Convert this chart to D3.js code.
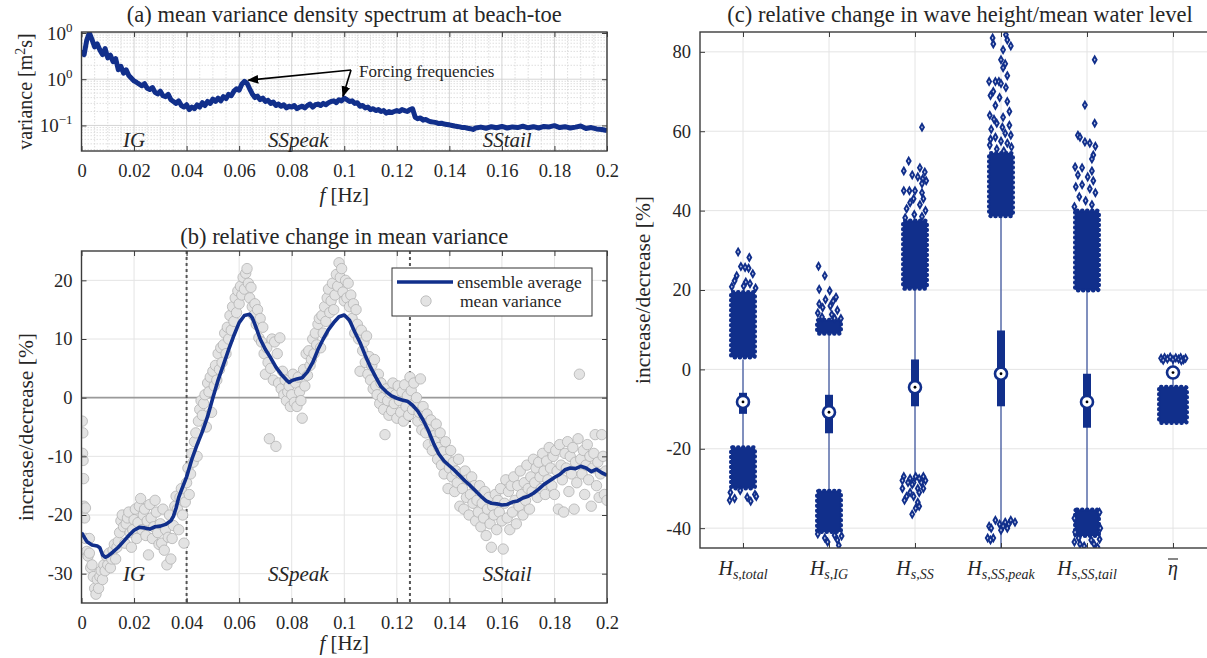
<!DOCTYPE html>
<html><head><meta charset="utf-8">
<script src="https://cdn.jsdelivr.net/npm/d3@7"></script>
<style>
body{margin:0;background:#fff}
svg{display:block}
text{font-family:"Liberation Serif","DejaVu Serif",serif;fill:#262626}
</style>
</head><body>
<svg id="c" width="1207" height="658"></svg>
<script>
// ---------------- DATA ----------------
// (a) mean variance density spectrum [f (Hz), variance (m^2 s)]
const spectrum = [[0,4.2],[0.001,3.4],[0.002,7.0],[0.003,10.0],[0.004,7.2],[0.005,5.0],[0.006,5.8],[0.007,4.3],[0.008,3.4],[0.009,4.6],[0.010,2.9],[0.011,3.3],[0.012,2.4],[0.013,2.8],[0.014,1.6],[0.015,1.9],[0.016,1.35],[0.017,1.6],[0.018,1.2],[0.019,1.05],[0.020,0.92],[0.021,0.85],[0.022,0.78],[0.023,0.72],[0.024,0.8],[0.025,0.64],[0.026,0.6],[0.027,0.66],[0.028,0.52],[0.029,0.48],[0.030,0.55],[0.031,0.44],[0.032,0.42],[0.033,0.47],[0.034,0.36],[0.035,0.33],[0.036,0.30],[0.037,0.34],[0.038,0.27],[0.039,0.25],[0.040,0.28],[0.041,0.22],[0.042,0.25],[0.043,0.23],[0.044,0.28],[0.045,0.25],[0.046,0.31],[0.047,0.27],[0.048,0.33],[0.049,0.30],[0.050,0.37],[0.051,0.33],[0.052,0.39],[0.053,0.34],[0.054,0.42],[0.055,0.38],[0.056,0.47],[0.057,0.44],[0.058,0.55],[0.059,0.62],[0.060,0.58],[0.061,0.78],[0.062,0.9],[0.063,0.82],[0.064,0.62],[0.065,0.48],[0.066,0.40],[0.067,0.43],[0.068,0.36],[0.069,0.39],[0.070,0.33],[0.071,0.35],[0.072,0.30],[0.073,0.32],[0.074,0.27],[0.075,0.29],[0.076,0.26],[0.077,0.28],[0.078,0.24],[0.079,0.26],[0.080,0.25],[0.081,0.27],[0.082,0.23],[0.083,0.25],[0.084,0.26],[0.085,0.24],[0.086,0.27],[0.087,0.29],[0.088,0.25],[0.089,0.28],[0.090,0.29],[0.091,0.27],[0.092,0.30],[0.093,0.28],[0.094,0.31],[0.095,0.33],[0.096,0.34],[0.097,0.31],[0.098,0.36],[0.099,0.34],[0.100,0.39],[0.101,0.36],[0.102,0.33],[0.103,0.34],[0.104,0.30],[0.105,0.31],[0.106,0.26],[0.107,0.27],[0.108,0.24],[0.109,0.25],[0.110,0.22],[0.111,0.23],[0.112,0.21],[0.113,0.22],[0.114,0.20],[0.115,0.21],[0.116,0.185],[0.117,0.2],[0.118,0.19],[0.119,0.2],[0.120,0.21],[0.121,0.2],[0.122,0.22],[0.123,0.21],[0.124,0.20],[0.125,0.22],[0.126,0.23],[0.127,0.15],[0.128,0.14],[0.129,0.145],[0.130,0.13],[0.131,0.135],[0.132,0.125],[0.133,0.12],[0.134,0.118],[0.135,0.115],[0.136,0.11],[0.137,0.112],[0.138,0.107],[0.139,0.105],[0.140,0.103],[0.141,0.1],[0.142,0.097],[0.143,0.095],[0.144,0.093],[0.145,0.09],[0.146,0.09],[0.147,0.087],[0.148,0.085],[0.149,0.082],[0.150,0.088],[0.152,0.092],[0.154,0.087],[0.156,0.094],[0.158,0.089],[0.160,0.095],[0.162,0.088],[0.164,0.093],[0.166,0.09],[0.168,0.096],[0.170,0.089],[0.172,0.094],[0.174,0.088],[0.176,0.095],[0.178,0.093],[0.180,0.099],[0.182,0.09],[0.184,0.094],[0.186,0.088],[0.188,0.092],[0.190,0.097],[0.192,0.086],[0.194,0.09],[0.196,0.084],[0.198,0.082],[0.200,0.078]];
const specYTicks = [0.1, 1, 10];
const specYLabels = [["10","−1"],["10","0"],["10","0"]];
const fTicks = [0,0.02,0.04,0.06,0.08,0.1,0.12,0.14,0.16,0.18,0.2];
const fTickLabels = ["0","0.02","0.04","0.06","0.08","0.1","0.12","0.14","0.16","0.18","0.2"];
const bandNames = ["IG","SSpeak","SStail"];
const bandCentres = [0.02, 0.0825, 0.162];
const bandLimits = [0.04, 0.125];

// (b) ensemble average of relative change [f, %]
const ensemble = [[0,-23.0],[0.002,-24.5],[0.004,-25.1],[0.006,-25.3],[0.007,-25.6],[0.008,-26.8],[0.009,-27.2],[0.010,-27.0],[0.012,-26.3],[0.014,-25.5],[0.016,-24.5],[0.018,-23.5],[0.020,-22.6],[0.022,-22.1],[0.024,-22.2],[0.026,-22.4],[0.028,-22.0],[0.030,-21.9],[0.032,-21.6],[0.034,-21.0],[0.035,-20.2],[0.036,-18.8],[0.037,-17.0],[0.038,-15.8],[0.040,-13.5],[0.042,-10.5],[0.044,-8.0],[0.046,-5.8],[0.048,-3.2],[0.050,0.0],[0.052,3.0],[0.054,5.6],[0.056,8.2],[0.058,10.6],[0.060,12.8],[0.062,14.0],[0.064,14.2],[0.065,13.6],[0.066,12.5],[0.068,10.0],[0.070,8.2],[0.072,6.8],[0.074,5.2],[0.076,4.0],[0.078,3.0],[0.079,2.6],[0.080,2.9],[0.082,3.2],[0.084,3.4],[0.086,4.4],[0.088,6.0],[0.090,8.2],[0.092,10.0],[0.094,11.6],[0.096,12.8],[0.098,13.8],[0.100,14.1],[0.102,13.2],[0.104,11.2],[0.106,9.4],[0.108,7.2],[0.110,5.2],[0.112,3.5],[0.114,1.9],[0.116,1.0],[0.118,0.3],[0.120,-0.1],[0.122,-0.4],[0.124,-0.6],[0.126,-1.3],[0.128,-2.3],[0.130,-3.8],[0.132,-5.6],[0.134,-7.8],[0.136,-9.6],[0.138,-10.8],[0.140,-11.6],[0.142,-12.4],[0.144,-13.3],[0.146,-14.2],[0.148,-15.0],[0.150,-15.9],[0.152,-16.8],[0.154,-17.6],[0.156,-18.0],[0.158,-18.1],[0.160,-18.3],[0.162,-18.2],[0.164,-17.8],[0.166,-17.6],[0.168,-17.1],[0.170,-16.8],[0.172,-16.3],[0.174,-15.6],[0.176,-14.8],[0.178,-14.2],[0.180,-13.6],[0.182,-13.1],[0.184,-12.3],[0.186,-12.0],[0.188,-12.1],[0.190,-11.7],[0.192,-12.0],[0.194,-12.6],[0.196,-12.2],[0.198,-12.8],[0.200,-13.2]];

// (b) mean variance change per frequency [f, %]
const meanVar = [[0.0003,-4],[0.0005,-6],[0.0004,-9.5],[0.0006,-10.7],[0.0008,-13.8],[0.001,-18.5],[0.0012,-20.5],[0.0015,-24],[0.0015,-18.8],[0.002,-26.2],[0.0025,-27],[0.003,-26.5],[0.003,-24],[0.0035,-29],[0.004,-28.5],[0.0045,-30.5],[0.005,-32.5],[0.0055,-33.5],[0.006,-31],[0.0065,-32.5],[0.007,-30.5],[0.0075,-29.5],[0.008,-31],[0.0085,-28.5],[0.009,-29.5],[0.0095,-27],[0.01,-28.5],[0.0105,-26.5],[0.011,-29],[0.0115,-27.5],[0.012,-26],[0.0125,-25],
[0.013,-27.5],[0.0135,-25.5],[0.014,-24.5],[0.0145,-23],[0.015,-21],[0.0155,-20],[0.016,-22],[0.0165,-24.8],[0.017,-21.5],[0.0175,-20.5],[0.018,-19.5],[0.0185,-23],[0.019,-25.5],[0.0195,-22.5],[0.02,-20.8],[0.0205,-19],[0.021,-24],[0.0215,-21.3],[0.022,-18.5],[0.0225,-17.2],[0.023,-22.5],[0.0235,-20],[0.024,-19],[0.0245,-23.5],[0.025,-21],[0.0255,-26.8],[0.026,-18.2],[0.0265,-20.5],[0.027,-24],[0.0275,-22],[0.028,-17.5],[0.0285,-19.5],[0.029,-23],[0.0295,-25],[0.03,-21.5],[0.0305,-24.8],[0.031,-19],[0.0315,-26],[0.032,-22.5],[0.0325,-28.5],[0.033,-23.8],[0.0335,-20],[0.034,-27.5],[0.0345,-24],[0.035,-21.8],[0.0355,-18.5],[0.036,-16.8],[0.0365,-19],[0.037,-22.5],[0.0375,-17],[0.038,-15.5],[0.0385,-20],[0.039,-24.8],[0.0395,-17.8],[0.04,-14.5],
[0.0405,-12],[0.041,-16.5],[0.0415,-13],[0.042,-9.5],[0.0425,-11],[0.043,-7.5],[0.0435,-6],[0.044,-10],[0.0445,-4],[0.045,-2],[0.0455,-0.5],[0.046,-3],[0.0465,-1],[0.047,0.5],[0.0475,-5],[0.048,2.5],[0.0485,1],[0.049,3.5],[0.0495,-2.5],[0.05,4.5],
[0.0505,2],[0.051,5.5],[0.0515,3],[0.052,7.5],[0.0525,4.8],[0.053,8.5],[0.0535,6],[0.054,9],[0.0545,11],[0.055,7.5],[0.0555,12],[0.056,10],[0.0565,14],[0.057,11.5],[0.0575,15.5],[0.058,13],[0.0585,17],[0.059,14.5],[0.0595,18.2],[0.06,16],[0.0605,19],[0.061,17.5],[0.0615,20.5],[0.062,18.5],[0.0625,21.2],[0.063,22],[0.0635,19.5],[0.064,17],[0.0645,18.8],[0.065,15.5],[0.0655,14],[0.066,16],
[0.0665,12.5],[0.067,15],[0.0675,10.2],[0.068,13.5],[0.0685,9.5],[0.069,12],[0.0695,7.5],[0.07,4],[0.0705,8.5],[0.071,6],[0.0715,-7],[0.072,5],[0.0725,10],[0.073,3],[0.0735,9.5],[0.074,-8.3],[0.0745,7.5],[0.075,2.5],[0.0755,10.2],[0.076,1.5],[0.0765,4.5],[0.077,0.5],[0.0775,3],[0.078,-0.5],[0.0785,1],[0.079,2],[0.0795,-1.5],[0.08,0.5],
[0.0805,4],[0.081,-0.8],[0.0815,2.5],[0.082,-1.5],[0.0825,3.5],[0.083,1],[0.0835,-0.5],[0.084,-3.5],[0.0845,4.8],[0.085,2],[0.0855,7.5],[0.086,3.8],[0.0865,8],[0.087,5.5],[0.0875,6.5],[0.088,10],[0.0885,7.5],[0.089,11],[0.0895,9],[0.09,12.5],[0.0905,13.5],[0.091,8.5],[0.0915,14],[0.092,11],[0.0925,15.5],[0.093,13],[0.0935,17],[0.094,18.5],[0.0945,14.5],[0.095,16.5],
[0.0955,19.5],[0.096,15],[0.0965,17.5],[0.097,21],[0.0975,19],[0.098,23],[0.0985,20.5],[0.099,22],[0.0995,18],[0.1,16.5],[0.1005,20],[0.101,17],[0.1015,19.5],[0.102,15.5],[0.1025,17.5],[0.103,13.5],[0.1035,16],[0.104,11],[0.1045,15],[0.105,12.5],
[0.1055,10],[0.106,4.5],[0.1065,11.5],[0.107,8],[0.1075,9.5],[0.108,6],[0.1085,10.5],[0.109,4],[0.1095,7],[0.11,3],[0.1105,5.5],[0.111,1.5],[0.1115,6.5],[0.112,2],[0.1125,0.5],[0.113,4],[0.1135,-1],[0.114,2.5],[0.1145,0],[0.115,-2],[0.1155,-6.3],[0.116,1.5],[0.1165,-0.5],[0.117,-3],[0.1175,0.8],[0.118,-2.2],[0.1185,2.5],[0.119,-1],[0.1195,0.5],[0.12,-3.5],[0.1205,2],[0.121,-0.5],[0.1215,-2.5],[0.122,1],[0.1225,-4],[0.123,2.2],[0.1235,-1.5],[0.124,0.3],[0.1245,-3],[0.125,3.5],
[0.1255,1.2],[0.126,-2],[0.1265,2.5],[0.127,-1],[0.1275,0],[0.128,-4],[0.1285,-2.5],[0.129,3.2],[0.1295,-5.5],[0.13,-1.5],[0.1305,-3.5],[0.131,-6],[0.1315,-2.8],[0.132,-8],[0.1325,-5],[0.133,-3.8],[0.1335,-9],[0.134,-6.5],[0.1345,-7.5],[0.135,-4.5],[0.1355,-10.5],[0.136,-8.5],[0.1365,-6],[0.137,-11.5],[0.1375,-9.2],[0.138,-13],[0.1385,-7.5],[0.139,-10.5],[0.1395,-15.5],[0.14,-12],
[0.1405,-9],[0.141,-13.5],[0.1415,-11],[0.142,-16],[0.1425,-12.5],[0.143,-14.5],[0.1435,-10.5],[0.144,-18.5],[0.1445,-13],[0.145,-15.5],[0.1455,-19],[0.146,-12.5],[0.1465,-17],[0.147,-14],[0.1475,-20],[0.148,-16.5],[0.1485,-13.5],[0.149,-18],[0.1495,-15],[0.15,-21],[0.1505,-17.5],[0.151,-19.5],[0.1515,-15],[0.152,-22],[0.1525,-18],[0.153,-20.5],[0.1535,-16],[0.154,-23.5],[0.1545,-19],[0.155,-17],[0.1555,-21.5],[0.156,-25.5],[0.1565,-18.5],[0.157,-20],[0.1575,-16.5],[0.158,-22.5],[0.1585,-17.5],[0.159,-19.5],[0.1595,-15.5],[0.16,-21],[0.1605,-25.8],[0.161,-18],[0.1615,-14],[0.162,-20.5],[0.1625,-16],[0.163,-22.5],[0.1635,-15],[0.164,-19.5],[0.1645,-13.5],[0.165,-17.5],
[0.1655,-21.5],[0.166,-15],[0.1665,-18.5],[0.167,-12.5],[0.1675,-16.5],[0.168,-20],[0.1685,-14.5],[0.169,-17.5],[0.1695,-11.5],[0.17,-15.5],[0.1705,-19],[0.171,-13.5],[0.1715,-16],[0.172,-10.5],[0.1725,-14.5],[0.173,-12],[0.1735,-17],[0.174,-11],[0.1745,-13.5],[0.175,-15.5],[0.1755,-9.5],[0.176,-12.5],[0.1765,-16.5],[0.177,-10.8],[0.1775,-14],[0.178,-8.5],[0.1785,-12],[0.179,-15],[0.1795,-10],[0.18,-16.5],[0.1805,-9],[0.181,-12.5],[0.1815,-19],[0.182,-8],[0.1825,-11.5],[0.183,-14],[0.1835,-19.5],[0.184,-9.5],[0.1845,-12],[0.185,-7.5],[0.1855,-16],[0.186,-10],[0.1865,-13],[0.187,-8.5],[0.1875,-19],[0.188,-11],[0.1885,-14.5],[0.189,-7],[0.1895,4],[0.19,-10.5],[0.1905,-13],[0.191,-9],[0.1915,-16.5],[0.192,-11.5],[0.1925,-8],[0.193,-14],[0.1935,-10],[0.194,-18.5],[0.1945,-12],[0.195,-9.5],[0.1955,-6.3],[0.196,-15],[0.1965,-11],[0.197,-17],[0.1975,-13],[0.198,-6.3],[0.1985,-10],[0.199,-16.5],[0.1995,-12.5],[0.2,-17.5]];
const changeTicks = [-30,-20,-10,0,10,20];

// (c) box-plot summaries per parameter
const paramBase = ["H","H","H","H","H","η"];
const paramSub  = ["s,total","s,IG","s,SS","s,SS,peak","s,SS,tail",""];
const medians   = [-8.2,-10.8,-4.5,-1.1,-8.2,-0.8];
const q1        = [-11.2,-16.1,-9.3,-9.3,-14.7,-1.5];
const q3        = [-5.9,-6.4,2.5,9.8,-1.1,-0.3];
const whiskLo   = [-19.4,-30.5,-26.5,-46,-35.1,-4.3];
const whiskHi   = [2.5,8.6,20.1,38.3,19.7,2.4];
// dense outlier bands [low, high]
const denseBands = [
  [[3,19.5],[-30,-19.6]],
  [[9,12.5],[-41,-30.6]],
  [[20.3,37.5]],
  [[38.6,54.5]],
  [[19.9,40],[-42,-35.3]],
  [[-13.5,-4.4]]
];
// individual outliers [value, horizontal jitter (-1..1)]
const sparseOutliers = [
  [[29.6,-0.35],[28.2,0.45],[25.9,-0.15],[25.7,0.15],[25.5,0.4],[24.1,0.7],[23.6,-0.45],[22.3,-0.6],[22,0.2],[21.6,0.5],[20.8,-0.8],[20.5,0.9],[21,0.05],[-31,-0.9],[-32.5,-0.6],[-33,-0.95],[-32.2,0.3],[-33.2,0.55],[-31.5,0.85],[-30.5,-0.2],[-32,0.95]],
  [[26,-0.75],[23.6,-0.3],[20.2,-0.7],[19.8,0.05],[18.2,0.5],[17.6,-0.25],[17.2,0.3],[16.5,-0.7],[16,0.1],[15.6,-0.45],[14.9,0.6],[14.2,-0.8],[13.8,0.2],[13.2,-0.5],[12.8,0.85],[12.9,0.4],[-41.5,-0.8],[-42.5,-0.3],[-43,0.6],[-43.5,-0.1],[-42,0.9],[-44.3,0.7],[-41.8,0.4]],
  [[61,0.5],[52.5,-0.45],[50.8,0.35],[50,-0.8],[49.7,0.7],[49,-0.2],[48.5,0.2],[48,0.55],[47.5,0.8],[46.8,0.5],[45,-0.8],[45,-0.4],[45,0],[44.5,0.5],[43,-0.1],[43,0.6],[42,-0.35],[41.5,0.35],[40.5,-0.6],[40,0.75],[39,-0.05],[38.5,0.5],[38.2,-0.7],
   [-27,-0.8],[-27,0.05],[-27,0.6],[-27.5,-0.35],[-27.5,0.3],[-28,-0.9],[-28,0.75],[-28.5,-0.5],[-28.5,-0.1],[-28.5,0.45],[-29,-0.2],[-30,-0.9],[-30,0.2],[-30,0.6],[-31,-0.35],[-31,0.3],[-32,-0.6],[-32,-0.1],[-33,-0.75],[-33.5,0.2],[-34.5,0.3],[-35,0.05],[-36.5,-0.2]],
  [[84.3,0.35],[83.5,-0.6],[83,0.45],[82,-0.55],[81.5,0.7],[80.5,0.15],[78,0],[77,0.3],[76,0.15],[74,0.45],[72.5,-0.85],[72.5,-0.4],[72.5,-0.15],[72,0],[71,0.35],[70,-0.55],[69,-0.75],[68.5,-0.1],[67.5,0.45],[66.5,-0.4],[65,0.6],[64,-0.8],[63.5,0.15],[62,-0.3],[61.5,0.6],[60.5,-0.7],[59.5,0.3],[58.5,-0.4],[57.5,0],[56.5,-0.8],[56,0.75],[63,-0.5],[61,0.1],[59,0.7],[58,-0.75],[57,0.45],[55.5,-0.3],[55,0.2],
   [-38,-0.4],[-38,0.7],[-38.5,0.3],[-38.5,1.0],[-39,-0.1],[-39,0.55],[-39.5,-0.85],[-39.5,0.15],[-40,-0.7],[-40,0.45],[-40.5,0],[-42.5,-0.95],[-42.5,-0.55],[-43,-0.75]],
  [[78,0.55],[66.6,-0.15],[62,0.55],[59,-0.65],[58.5,-0.5],[57.3,-0.15],[57,0.2],[56.2,0.6],[54,0.45],[53,0.35],[51,-0.85],[50.8,-0.35],[50,0.35],[49,-0.65],[48.5,0.05],[47.5,0.45],[46.5,-0.35],[46,-0.8],[45.5,0.2],[44.5,0.6],[43.5,-0.55],[42.5,-0.1],[41.5,0.35],[41,-0.9],
   [-36,0.9],[-37.5,-0.9],[-40,0.95],[-41,-0.85],[-42.5,-0.6],[-43,0.3],[-43.5,-0.9],[-44,0.5],[-44.5,-0.2],[-44.8,0.75],[-42.8,0.9],[-44,-0.5]],
  [[2.8,-0.85],[3.0,-0.6],[2.6,-0.4],[3.1,-0.2],[2.5,0],[2.9,0.2],[2.6,0.4],[3.0,0.55],[2.4,0.75],[2.8,0.9],[2.2,0.6],[2.3,-0.7]]
];
const cTicks = [-40,-20,0,20,40,60,80];

// ---------------- STYLE ----------------
const BLUE = "#112f8b", AX = "#3c3c3c", GRID = "#e4e4e4", MINOR = "#d6d6d6";
const FONT = '"Liberation Serif","DejaVu Serif",serif';
const svg = d3.select("#c");
const defs = svg.append("defs");
defs.append("marker").attr("id","arr").attr("viewBox","0 0 10 10").attr("refX",9).attr("refY",5)
  .attr("markerWidth",11).attr("markerHeight",11).attr("markerUnits","userSpaceOnUse").attr("orient","auto")
  .append("path").attr("d","M0,1 L10,5 L0,9 Z").attr("fill","#000");

function clip(id, l, t, w, h){
  defs.append("clipPath").attr("id",id).append("rect").attr("x",l).attr("y",t).attr("width",w).attr("height",h);
}
function styleAxis(g, fs){
  g.selectAll(".domain").remove();
  g.selectAll(".tick line").attr("stroke",AX).attr("stroke-width",1);
  g.selectAll(".tick text").attr("font-size",fs||18.5).attr("fill","#262626").attr("font-family",FONT);
}
function frame(P){
  svg.append("rect").attr("x",P.l).attr("y",P.t).attr("width",P.r-P.l).attr("height",P.b-P.t)
    .attr("fill","none").attr("stroke",AX).attr("stroke-width",1.4);
}

// ================= PANEL A =================
const A = {l:81.5, r:607, t:32, b:151};
const xA = d3.scaleLinear().domain([0,0.2]).range([A.l,A.r]);
const yA = d3.scaleLog().domain([0.028,10.5]).range([A.b,A.t]);
const gA = svg.append("g");
const xMinor = d3.range(0,0.2001,0.005).filter(v => Math.abs(v/0.02 - Math.round(v/0.02))>1e-6);
gA.selectAll(".xm").data(xMinor).join("line").attr("x1",d=>xA(d)).attr("x2",d=>xA(d)).attr("y1",A.t).attr("y2",A.b)
  .attr("stroke",MINOR).attr("stroke-width",0.8).attr("stroke-dasharray","1.5,1.5");
const yMinor = [];
[0.01,0.1,1].forEach(d => { for(let k=2;k<=9;k++){ const v=d*k; if(v>0.028 && v<10.5) yMinor.push(v);} });
gA.selectAll(".ym").data(yMinor).join("line").attr("x1",A.l).attr("x2",A.r).attr("y1",d=>yA(d)).attr("y2",d=>yA(d))
  .attr("stroke",MINOR).attr("stroke-width",0.8).attr("stroke-dasharray","1.5,1.5");
gA.selectAll(".xg").data(fTicks).join("line").attr("x1",d=>xA(d)).attr("x2",d=>xA(d)).attr("y1",A.t).attr("y2",A.b)
  .attr("stroke","#cfcfcf").attr("stroke-width",0.9);
gA.selectAll(".yg").data(specYTicks).join("line").attr("x1",A.l).attr("x2",A.r).attr("y1",d=>yA(d)).attr("y2",d=>yA(d))
  .attr("stroke","#cfcfcf").attr("stroke-width",0.9);
clip("cA", A.l, A.t, A.r-A.l, A.b-A.t);
gA.append("path").datum(spectrum).attr("clip-path","url(#cA)")
  .attr("d", d3.line().x(d=>xA(d[0])).y(d=>yA(d[1])))
  .attr("fill","none").attr("stroke",BLUE).attr("stroke-width",5).attr("stroke-linejoin","round");
svg.append("g").attr("transform",`translate(0,${A.b})`)
  .call(d3.axisBottom(xA).tickValues(fTicks).tickFormat((d,i)=>fTickLabels[i]).tickSize(-5).tickPadding(13)).call(styleAxis);
svg.append("g").attr("transform",`translate(0,${A.t})`)
  .call(d3.axisTop(xA).tickValues(fTicks).tickFormat("").tickSize(-5)).call(styleAxis);
svg.append("g").attr("transform",`translate(${A.l},0)`)
  .call(d3.axisLeft(yA).tickValues(specYTicks).tickFormat("").tickSize(-5)).call(styleAxis);
svg.append("g").attr("transform",`translate(${A.r},0)`)
  .call(d3.axisRight(yA).tickValues(specYTicks).tickFormat("").tickSize(-5)).call(styleAxis);
specYTicks.forEach((v,i)=>{
  const t = svg.append("text").attr("x",A.l-9).attr("y",yA(v)+7).attr("text-anchor","end").attr("font-size",19);
  t.append("tspan").text(specYLabels[i][0]);
  t.append("tspan").attr("dy",-8).attr("font-size",13).text(specYLabels[i][1]);
});
frame(A);
bandNames.forEach((n,i)=>{
  svg.append("text").attr("x",xA(bandCentres[i])).attr("y",A.b-4).attr("text-anchor","middle")
    .attr("font-size",21).attr("font-style","italic").text(n);
});
svg.append("text").attr("x",359).attr("y",77).attr("font-size",17).text("Forcing frequencies");
svg.append("line").attr("x1",351).attr("y1",70).attr("x2",xA(0.0635)).attr("y2",yA(0.95))
  .attr("stroke","#000").attr("stroke-width",1.6).attr("marker-end","url(#arr)");
svg.append("line").attr("x1",351).attr("y1",70).attr("x2",xA(0.0995)).attr("y2",yA(0.43))
  .attr("stroke","#000").attr("stroke-width",1.6).attr("marker-end","url(#arr)");
svg.append("text").attr("x",(A.l+A.r)/2).attr("y",22).attr("text-anchor","middle").attr("font-size",22.5)
  .text("(a) mean variance density spectrum at beach-toe");
const xlA = svg.append("text").attr("x",(A.l+A.r)/2).attr("y",202).attr("text-anchor","middle").attr("font-size",21);
xlA.append("tspan").attr("font-style","italic").text("f");
xlA.append("tspan").text(" [Hz]");
const ylA = svg.append("text").attr("transform",`translate(32,${(A.t+A.b)/2}) rotate(-90)`).attr("text-anchor","middle").attr("font-size",20);
ylA.append("tspan").text("variance [m");
ylA.append("tspan").attr("dy",-7).attr("font-size",14).text("2");
ylA.append("tspan").attr("dy",7).text("s]");

// ================= PANEL B =================
const B = {l:81.5, r:607, t:251, b:603};
const xB = d3.scaleLinear().domain([0,0.2]).range([B.l,B.r]);
const yB = d3.scaleLinear().domain([-35,25]).range([B.b,B.t]);
const gB = svg.append("g");
gB.selectAll(".xg").data(fTicks).join("line").attr("x1",d=>xB(d)).attr("x2",d=>xB(d)).attr("y1",B.t).attr("y2",B.b)
  .attr("stroke",GRID).attr("stroke-width",1);
gB.selectAll(".yg").data(changeTicks).join("line").attr("x1",B.l).attr("x2",B.r).attr("y1",d=>yB(d)).attr("y2",d=>yB(d))
  .attr("stroke",GRID).attr("stroke-width",1);
gB.append("line").attr("x1",B.l).attr("x2",B.r).attr("y1",yB(0)).attr("y2",yB(0)).attr("stroke","#9a9a9a").attr("stroke-width",1.6);
gB.selectAll(".bl").data(bandLimits).join("line").attr("x1",d=>xB(d)).attr("x2",d=>xB(d)).attr("y1",B.t).attr("y2",B.b)
  .attr("stroke","#555").attr("stroke-width",2).attr("stroke-dasharray","3,3");
clip("cB", B.l, B.t, B.r-B.l, B.b-B.t);
gB.append("g").attr("clip-path","url(#cB)").selectAll("circle").data(meanVar).join("circle")
  .attr("cx",d=>xB(d[0])).attr("cy",d=>yB(d[1])).attr("r",5.2)
  .attr("fill","#e3e3e3").attr("stroke","#b3b3b3").attr("stroke-width",0.8);
gB.append("path").datum(ensemble).attr("clip-path","url(#cB)")
  .attr("d", d3.line().x(d=>xB(d[0])).y(d=>yB(d[1])))
  .attr("fill","none").attr("stroke",BLUE).attr("stroke-width",3.6).attr("stroke-linejoin","round");
bandNames.forEach((n,i)=>{
  svg.append("text").attr("x",xB(bandCentres[i])).attr("y",yB(-30)+7).attr("text-anchor","middle")
    .attr("font-size",21).attr("font-style","italic").text(n);
});
svg.append("g").attr("transform",`translate(0,${B.b})`)
  .call(d3.axisBottom(xB).tickValues(fTicks).tickFormat((d,i)=>fTickLabels[i]).tickSize(-5).tickPadding(13)).call(styleAxis);
svg.append("g").attr("transform",`translate(0,${B.t})`)
  .call(d3.axisTop(xB).tickValues(fTicks).tickFormat("").tickSize(-5)).call(styleAxis);
svg.append("g").attr("transform",`translate(${B.l},0)`)
  .call(d3.axisLeft(yB).tickValues(changeTicks).tickFormat(d=>d).tickSize(-5).tickPadding(9)).call(styleAxis);
svg.append("g").attr("transform",`translate(${B.r},0)`)
  .call(d3.axisRight(yB).tickValues(changeTicks).tickFormat("").tickSize(-5)).call(styleAxis);
frame(B);
const lg = svg.append("g");
lg.append("rect").attr("x",392).attr("y",268).attr("width",200).attr("height",48).attr("fill","#fff").attr("stroke","#333").attr("stroke-width",1);
lg.append("line").attr("x1",397).attr("x2",453).attr("y1",282).attr("y2",282).attr("stroke",BLUE).attr("stroke-width",3.6);
lg.append("text").attr("x",457).attr("y",288).attr("font-size",17.5).text("ensemble average");
lg.append("circle").attr("cx",426).attr("cy",301).attr("r",5.2).attr("fill","#e3e3e3").attr("stroke","#b3b3b3").attr("stroke-width",0.8);
lg.append("text").attr("x",460).attr("y",307).attr("font-size",17.5).text("mean variance");
svg.append("text").attr("x",(B.l+B.r)/2).attr("y",244).attr("text-anchor","middle").attr("font-size",22.5)
  .text("(b) relative change in mean variance");
const xlB = svg.append("text").attr("x",(B.l+B.r)/2).attr("y",650).attr("text-anchor","middle").attr("font-size",21);
xlB.append("tspan").attr("font-style","italic").text("f");
xlB.append("tspan").text(" [Hz]");
svg.append("text").attr("transform",`translate(33,${(B.t+B.b)/2}) rotate(-90)`).attr("text-anchor","middle").attr("font-size",21.5)
  .text("increase/decrease [%]");

// ================= PANEL C =================
const C = {l:700, r:1216, t:32, b:548};
const xC = d3.scaleLinear().domain([0.5,6.5]).range([C.l,C.r]);
const yC = d3.scaleLinear().domain([-45,85]).range([C.b,C.t]);
const idx = d3.range(1,7);
const gC = svg.append("g");
gC.selectAll(".xg").data(idx).join("line").attr("x1",d=>xC(d)).attr("x2",d=>xC(d)).attr("y1",C.t).attr("y2",C.b)
  .attr("stroke",GRID).attr("stroke-width",1);
gC.selectAll(".yg").data(cTicks).join("line").attr("x1",C.l).attr("x2",C.r).attr("y1",d=>yC(d)).attr("y2",d=>yC(d))
  .attr("stroke",GRID).attr("stroke-width",1);
clip("cC", C.l, C.t, C.r-C.l, C.b-C.t);
const pc = gC.append("g").attr("clip-path","url(#cC)");
const JIT = 12;
pc.selectAll(".wh").data(idx).join("line").attr("x1",d=>xC(d)).attr("x2",d=>xC(d))
  .attr("y1",(d,i)=>yC(whiskLo[i])).attr("y2",(d,i)=>yC(whiskHi[i])).attr("stroke",BLUE).attr("stroke-width",1);
// dense bands: solid core with scalloped marker-like edge
denseBands.forEach((bands,i)=>{
  const w = i===5 ? 14 : JIT;
  pc.selectAll(".band"+i).data(bands).join("rect")
    .attr("x",xC(i+1)-w).attr("width",2*w)
    .attr("y",d=>yC(d[1])).attr("height",d=>yC(d[0])-yC(d[1]))
    .attr("rx",2).attr("fill",BLUE).attr("stroke",BLUE).attr("stroke-width",4)
    .attr("stroke-linecap","round").attr("stroke-dasharray","0.5,4.5");
});
const diamond = d3.symbol().type(d3.symbolDiamond).size(13);
sparseOutliers.forEach((pts,i)=>{
  const w = i===5 ? 14 : JIT + 2;
  pc.selectAll(".o"+i).data(pts).join("path")
    .attr("transform",d=>`translate(${xC(i+1)+d[1]*w},${yC(d[0])})`)
    .attr("d",diamond).attr("fill","#c9d0ea").attr("stroke",BLUE).attr("stroke-width",1.9);
});
pc.selectAll(".bx").data(idx).join("rect").attr("x",d=>xC(d)-4).attr("width",8)
  .attr("y",(d,i)=>yC(q3[i])).attr("height",(d,i)=>yC(q1[i])-yC(q3[i])).attr("fill",BLUE);
pc.selectAll(".md").data(idx).join("circle").attr("cx",d=>xC(d)).attr("cy",(d,i)=>yC(medians[i])).attr("r",6)
  .attr("fill","#fff").attr("stroke",BLUE).attr("stroke-width",2.6);
pc.selectAll(".mdd").data(idx).join("circle").attr("cx",d=>xC(d)).attr("cy",(d,i)=>yC(medians[i])).attr("r",1.4).attr("fill","#000");
svg.append("g").attr("transform",`translate(0,${C.b})`)
  .call(d3.axisBottom(xC).tickValues(idx).tickFormat("").tickSize(-5)).call(styleAxis);
svg.append("g").attr("transform",`translate(0,${C.t})`)
  .call(d3.axisTop(xC).tickValues(idx).tickFormat("").tickSize(-5)).call(styleAxis);
svg.append("g").attr("transform",`translate(${C.l},0)`)
  .call(d3.axisLeft(yC).tickValues(cTicks).tickFormat(d=>d).tickSize(-5).tickPadding(9)).call(g=>styleAxis(g,18.5));
frame(C);
idx.forEach((d,i)=>{
  const t = svg.append("text").attr("x",xC(d)).attr("y",C.b+27).attr("text-anchor","middle").attr("font-size",20).attr("font-style","italic");
  t.append("tspan").text(paramBase[i]);
  if(paramSub[i]) t.append("tspan").attr("dy",4).attr("font-size",14).text(paramSub[i]);
  else svg.append("line").attr("x1",xC(d)-5).attr("x2",xC(d)+5).attr("y1",C.b+11).attr("y2",C.b+11).attr("stroke","#262626").attr("stroke-width",1.1);
});
svg.append("text").attr("x",960).attr("y",22).attr("text-anchor","middle").attr("font-size",22.5)
  .text("(c) relative change in wave height/mean water level");
svg.append("text").attr("transform",`translate(650,${(C.t+C.b)/2}) rotate(-90)`).attr("text-anchor","middle").attr("font-size",21.5)
  .text("increase/decrease [%]");
</script>
</body></html>
